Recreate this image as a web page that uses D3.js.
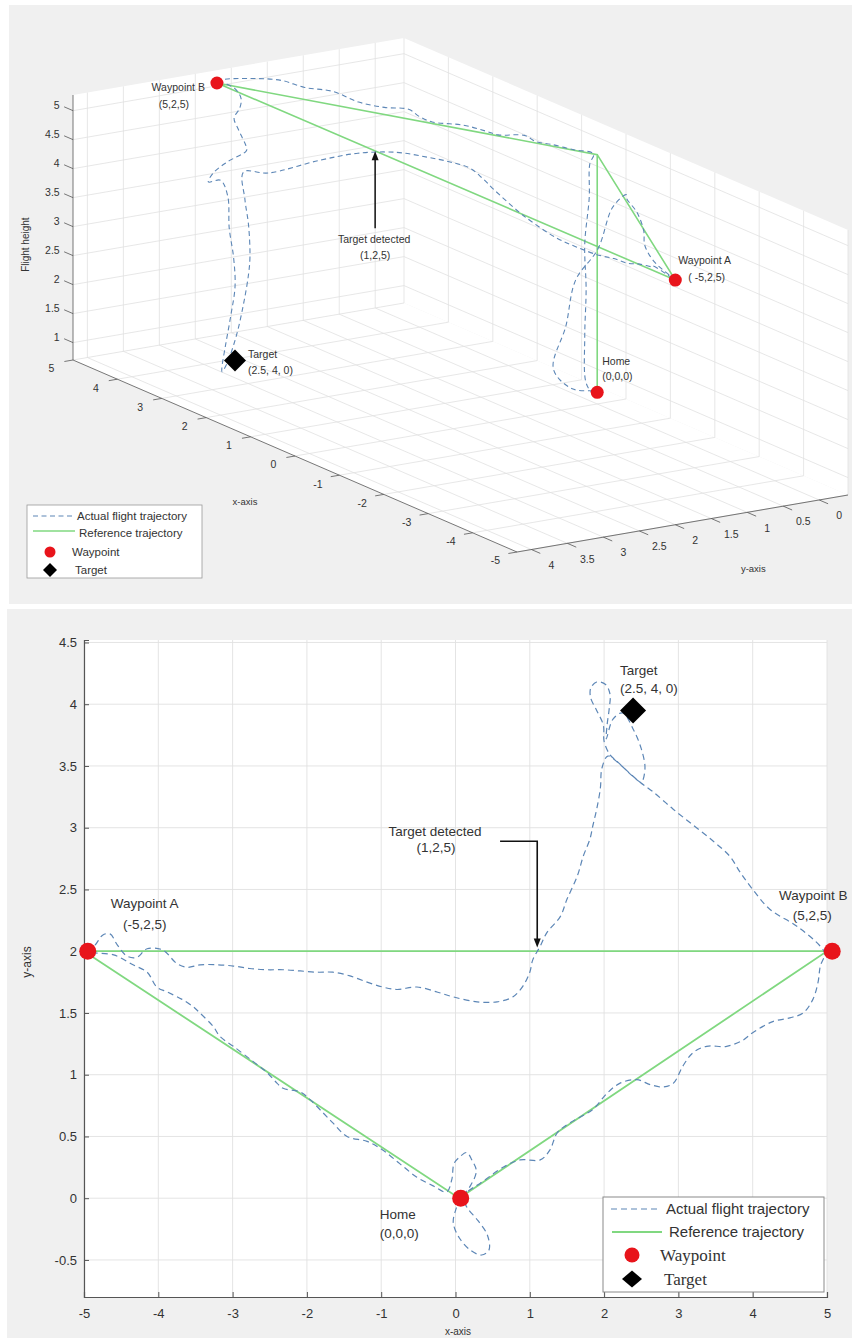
<!DOCTYPE html>
<html>
<head>
<meta charset="utf-8">
<script src="https://cdn.jsdelivr.net/npm/d3@7"></script>
<style>
  body { margin: 0; background: #fff; }
  svg { display: block; }
</style>
</head>
<body>
<script>
// ---------- 3D view (top panel) ----------
const xTicks3 = [-5, -4, -3, -2, -1, 0, 1, 2, 3, 4, 5];
const yTicks3 = [0, 0.5, 1, 1.5, 2, 2.5, 3, 3.5, 4];
const zTicks3 = [1, 1.5, 2, 2.5, 3, 3.5, 4, 4.5, 5];

// reference trajectory: home -> up -> B -> A -> top of home
const refX3 = [0, 0, 5, -5, 0];
const refY3 = [0, 0, 2.2, 2, 0];
const refZ3 = [0.9, 5, 5.05, 4.92, 5];

const flightX3 = [0.05, 0.15, 0.22, 0.20, 0.25, 0.20, 0.18, 0.12, 0.05, 0.33, 0.64, 0.87, 1.14, 1.37, 1.54, 1.85, 2.21, 2.44, 2.79, 3.06,
  3.38, 3.87, 4.27, 4.68, 4.88, 5.00, 4.60, 4.23, 4.00, 3.69, 3.20, 2.66, 2.31, 2.08, 2.00, 2.00, 1.95, 2.00, 2.00, 2.00,
  1.95, 1.95, 1.98, 2.00, 2.02, 2.05, 2.05, 2.05, 2.10, 2.10, 2.10, 2.10, 2.10, 2.05, 1.90, 1.70, 1.50, 1.20, 1.00, 0.70,
  0.29, 0.00, -0.48, -1.00, -1.42, -2.00, -2.54, -3.00, -3.44, -3.94, -4.20, -4.42, -4.72, -4.89, -5.00, -4.34, -3.68, -3.17, -2.40, -1.78,
  -1.46, -0.98, -0.50, 0.00, 0.30, 0.50, 0.40, 0.10];
const flightY3 = [0.00, -0.02, 0.02, 0.05, 0.00, 0.05, 0.00, 0.03, 0.02, 0.12, 0.25, 0.31, 0.31, 0.53, 0.61, 0.72, 0.93, 0.96, 0.90, 1.07,
  1.23, 1.28, 1.43, 1.50, 1.75, 2.15, 2.20, 2.34, 2.50, 2.77, 3.02, 3.29, 3.46, 3.59, 3.90, 4.10, 4.20, 4.00, 3.90, 3.88,
  3.85, 3.83, 3.87, 3.93, 3.97, 3.95, 3.88, 3.75, 3.62, 3.55, 3.53, 3.55, 3.60, 3.65, 3.40, 2.80, 2.40, 2.05, 1.75, 1.60,
  1.59, 1.60, 1.72, 1.70, 1.80, 1.80, 1.85, 1.83, 1.89, 2.01, 2.00, 1.96, 2.14, 2.03, 2.00, 1.89, 1.61, 1.31, 0.93, 0.69,
  0.50, 0.39, 0.30, 0.30, 0.25, 0.30, 0.10, 0.00];
const flightZ3 = [0.90, 0.85, 1.00, 1.80, 2.60, 3.40, 4.20, 4.80, 5.00, 5.00, 5.02, 5.00, 5.02, 5.00, 5.03, 5.05, 5.03, 5.05, 5.05, 5.03,
  5.05, 5.08, 5.05, 5.05, 5.07, 5.08, 5.09, 5.07, 5.01, 5.00, 5.04, 5.11, 5.14, 5.15, 5.05, 4.90, 4.78, 4.75, 4.45, 3.90,
  3.40, 2.90, 2.40, 1.90, 1.50, 1.42, 1.55, 2.00, 2.50, 3.00, 3.30, 3.85, 4.30, 4.80, 4.78, 4.94, 5.04, 5.08, 5.00, 4.98,
  5.01, 4.94, 4.91, 4.70, 4.71, 4.61, 4.64, 4.65, 4.75, 4.86, 4.93, 4.95, 5.10, 4.97, 4.92, 5.00, 5.00, 5.02, 5.00, 4.98,
  4.90, 4.50, 3.60, 2.90, 2.00, 1.20, 0.85, 0.90];

// waypoints B, A, Home and the target as placed in the 3D view
const wpX3 = [5, -5, 0];
const wpY3 = [2.2, 2, 0];
const wpZ3 = [5.05, 4.92, 0.9];
const targetX3 = 2.0, targetY3 = 3.8, targetZ3 = 1.6;
const detectX3 = 1.55, detectY3 = 2.13, detectZ3 = 5.0;

// ---------- 2D view (bottom panel) ----------
const xTicks2 = [-5, -4, -3, -2, -1, 0, 1, 2, 3, 4, 5];
const yTicks2 = [-0.5, 0, 0.5, 1, 1.5, 2, 2.5, 3, 3.5, 4, 4.5];

const refX2 = [-5, 5, 0.05, -5];
const refY2 = [2, 2, 0, 2];

const flightX2 = [0.07, 0.00, -0.03, 0.05, 0.20, 0.35, 0.45, 0.43, 0.30, 0.15, 0.10, 0.20, 0.33, 0.64, 0.87, 1.14, 1.27, 1.37, 1.54, 1.85,
  2.04, 2.21, 2.44, 2.62, 2.79, 2.93, 3.06, 3.20, 3.38, 3.65, 3.87, 4.00, 4.27, 4.50, 4.68, 4.81, 4.88, 4.91, 4.97, 4.91,
  4.60, 4.23, 4.00, 3.83, 3.69, 3.47, 3.20, 2.93, 2.66, 2.48, 2.31, 2.17, 2.08,
  2.00, 1.99, 1.90, 1.82, 1.82, 1.90, 2.02, 2.08, 2.07, 2.04, 2.03, 2.12, 2.25, 2.39, 2.50, 2.55, 2.50, 2.38, 2.20, 2.05,
  1.97, 1.95, 1.90, 1.85, 1.81, 1.72, 1.64, 1.50, 1.41, 1.23, 1.14, 1.04, 1.00, 0.91, 0.77, 0.56, 0.29, -0.03, -0.25, -0.52,
  -0.79, -0.98, -1.19, -1.42, -1.65, -1.86, -2.09, -2.32, -2.54, -2.77, -2.99, -3.21, -3.44, -3.61, -3.75, -3.94, -4.15, -4.29, -4.42, -4.55,
  -4.65, -4.75, -4.85, -4.95,
  -4.60, -4.34, -4.15, -4.02, -3.88, -3.68, -3.53, -3.44, -3.26, -3.17, -2.99, -2.73, -2.54, -2.40, -2.32, -2.09, -1.96, -1.78, -1.65, -1.46,
  -1.19, -0.98, -0.75, -0.52, -0.30, -0.12, -0.05, -0.02, 0.05, 0.15, 0.22, 0.28, 0.20, 0.07];
const flightY2 = [0.00, -0.10, -0.20, -0.32, -0.42, -0.46, -0.42, -0.30, -0.18, -0.07, 0.02, 0.07, 0.12, 0.25, 0.31, 0.31, 0.39, 0.53, 0.61, 0.72,
  0.85, 0.93, 0.96, 0.92, 0.90, 0.93, 1.07, 1.18, 1.23, 1.23, 1.28, 1.34, 1.43, 1.46, 1.50, 1.61, 1.75, 1.88, 1.98, 2.04,
  2.20, 2.34, 2.50, 2.64, 2.77, 2.89, 3.02, 3.15, 3.29, 3.37, 3.46, 3.54, 3.59,
  3.70, 3.83, 3.95, 4.05, 4.13, 4.18, 4.16, 4.08, 3.97, 3.83, 3.72, 3.88, 3.93, 3.80, 3.64, 3.48, 3.37, 3.42, 3.52, 3.58,
  3.48, 3.32, 3.15, 3.02, 2.91, 2.77, 2.61, 2.42, 2.28, 2.15, 2.04, 1.93, 1.83, 1.72, 1.63, 1.59, 1.59, 1.63, 1.67, 1.71,
  1.69, 1.71, 1.75, 1.80, 1.83, 1.83, 1.84, 1.85, 1.85, 1.86, 1.88, 1.89, 1.89, 1.87, 1.90, 2.01, 2.02, 1.95, 1.96, 2.05,
  2.14, 2.13, 2.05, 2.00,
  1.97, 1.89, 1.83, 1.71, 1.67, 1.61, 1.55, 1.50, 1.39, 1.31, 1.23, 1.11, 1.02, 0.93, 0.89, 0.86, 0.80, 0.69, 0.61, 0.50,
  0.46, 0.39, 0.28, 0.17, 0.10, 0.05, 0.15, 0.28, 0.33, 0.37, 0.31, 0.22, 0.10, 0.00];

// waypoints A, Home, B and target as plotted
const wpX2 = [-4.95, 0.07, 5.07];
const wpY2 = [2, 0, 2];
const targetX2 = 2.39, targetY2 = 3.95;
// "target detected" call-out arrow
const arrowX2 = [0.6, 1.1, 1.1];
const arrowY2 = [2.89, 2.89, 2.03];

const legendLabels = ['Actual flight trajectory', 'Reference trajectory', 'Waypoint', 'Target'];

// ---------- styles ----------
const SANS = '"Liberation Sans", Arial, sans-serif';
const SERIF = '"Liberation Serif", "Times New Roman", serif';
const BLUE = '#5c86b6';
const GREEN = '#80d880';
const RED = '#e8141b';
const GRID = '#e1e1e1';
const AXIS = '#555';
const TXT = '#333';

const svg = d3.select('body').append('svg')
  .attr('width', 856)
  .attr('height', 1338)
  .style('font-family', SANS);

svg.append('rect').attr('width', 856).attr('height', 1338).attr('fill', '#fff');
svg.append('rect').attr('x', 9).attr('y', 5).attr('width', 843).attr('height', 599).attr('fill', '#f0f0f0');
svg.append('rect').attr('x', 7).attr('y', 609).attr('width', 845).attr('height', 729).attr('fill', '#f0f0f0');

function diamond(g, cx, cy, rx, ry) {
  return g.append('polygon')
    .attr('points', [[cx, cy - ry], [cx + rx, cy], [cx, cy + ry], [cx - rx, cy]].map(p => p.join(',')).join(' '))
    .attr('fill', '#000');
}

// ================= 3D panel =================
const ymin3 = -0.4, ymax3 = 4.2, zmin3 = 0.7, zmax3 = 5.27;
const fx = d3.scaleLinear().domain([-5, 5]).range([0, 1]);
const fy = d3.scaleLinear().domain([ymax3, ymin3]).range([0, 1]);
const fz = d3.scaleLinear().domain([zmin3, zmax3]).range([0, 1]);
const O3 = [517, 552], VX = [-444, -192], VY = [331, -57], VZ = -265;

function P(x, y, z) {
  const a = fx(x), b = fy(y), c = fz(z);
  return [O3[0] + a * VX[0] + b * VY[0], O3[1] + a * VX[1] + b * VY[1] + c * VZ];
}

const g3 = svg.append('g');
const poly = pts => pts.map(p => p.join(',')).join(' ');

// white planes: back wall x=5, back wall y=min, floor
[
  [P(5, ymax3, zmin3), P(5, ymin3, zmin3), P(5, ymin3, zmax3), P(5, ymax3, zmax3)],
  [P(5, ymin3, zmin3), P(-5, ymin3, zmin3), P(-5, ymin3, zmax3), P(5, ymin3, zmax3)],
  [P(5, ymax3, zmin3), P(-5, ymax3, zmin3), P(-5, ymin3, zmin3), P(5, ymin3, zmin3)]
].forEach(f => g3.append('polygon').attr('points', poly(f)).attr('fill', '#fff'));

function seg(g, a, b, color, w) {
  return g.append('line')
    .attr('x1', a[0]).attr('y1', a[1]).attr('x2', b[0]).attr('y2', b[1])
    .attr('stroke', color).attr('stroke-width', w);
}

const grid3 = g3.append('g');
xTicks3.forEach(x => {
  seg(grid3, P(x, ymax3, zmin3), P(x, ymin3, zmin3), GRID, 0.8);
  seg(grid3, P(x, ymin3, zmin3), P(x, ymin3, zmax3), GRID, 0.8);
});
yTicks3.forEach(y => {
  seg(grid3, P(5, y, zmin3), P(-5, y, zmin3), GRID, 0.8);
  seg(grid3, P(5, y, zmin3), P(5, y, zmax3), GRID, 0.8);
});
zTicks3.forEach(z => {
  seg(grid3, P(5, ymax3, z), P(5, ymin3, z), GRID, 0.8);
  seg(grid3, P(5, ymin3, z), P(-5, ymin3, z), GRID, 0.8);
});

// axis lines
seg(g3, P(5, ymax3, zmin3), P(-5, ymax3, zmin3), AXIS, 0.8);
seg(g3, P(-5, ymax3, zmin3), P(-5, ymin3, zmin3), AXIS, 0.8);
seg(g3, P(5, ymax3, zmin3), P(5, ymax3, zmax3), AXIS, 0.8);

// ticks and tick labels
xTicks3.forEach(x => {
  seg(g3, P(x, ymax3, zmin3), P(x, ymax3 + 0.12, zmin3), AXIS, 0.8);
  const p = P(x, ymax3 + 0.3, zmin3);
  g3.append('text').attr('x', p[0]).attr('y', p[1] + 5).attr('dy', '0.35em')
    .attr('text-anchor', 'middle').attr('font-size', 10.5).attr('fill', TXT).text(x);
});
yTicks3.forEach(y => {
  seg(g3, P(-5, y, zmin3), P(-5.2, y, zmin3), AXIS, 0.8);
  const p = P(-5.45, y, zmin3);
  g3.append('text').attr('x', p[0]).attr('y', p[1] + 7).attr('dy', '0.35em')
    .attr('text-anchor', 'middle').attr('font-size', 10.5).attr('fill', TXT).text(y);
});
zTicks3.forEach(z => {
  seg(g3, P(5, ymax3, z), P(5.2, ymax3, z), AXIS, 0.8);
  const p = P(5.3, ymax3, z);
  g3.append('text').attr('x', p[0]).attr('y', p[1]).attr('dy', '0.35em')
    .attr('text-anchor', 'end').attr('font-size', 10.5).attr('fill', TXT).text(z);
});

// axis titles
const xl = P(0, ymax3, zmin3);
g3.append('text').attr('x', xl[0] - 50).attr('y', xl[1] + 49).attr('text-anchor', 'middle')
  .attr('font-size', 9.5).attr('fill', TXT).text('x-axis');
const yl = P(-5, 2, zmin3);
g3.append('text').attr('x', yl[0] + 78).attr('y', yl[1] + 47).attr('text-anchor', 'middle')
  .attr('font-size', 9.5).attr('fill', TXT).text('y-axis');
const zl = P(5, ymax3, 3);
g3.append('text').attr('transform', `translate(${zl[0] - 44},${zl[1] + 18}) rotate(-90)`)
  .attr('text-anchor', 'middle').attr('font-size', 10).attr('fill', TXT).text('Flight height');

// reference and actual trajectories
const lin = d3.line();
const smooth = d3.line().curve(d3.curveCatmullRom.alpha(0.5));
g3.append('path')
  .attr('d', lin(refX3.map((x, i) => P(x, refY3[i], refZ3[i]))))
  .attr('fill', 'none').attr('stroke', GREEN).attr('stroke-width', 1.6);
g3.append('path')
  .attr('d', smooth(flightX3.map((x, i) => P(x, flightY3[i], flightZ3[i]))))
  .attr('fill', 'none').attr('stroke', BLUE).attr('stroke-width', 1.1)
  .attr('stroke-dasharray', '5,3.5');

// markers
const wp3 = wpX3.map((x, i) => P(x, wpY3[i], wpZ3[i]));
wp3.forEach(p => g3.append('circle').attr('cx', p[0]).attr('cy', p[1]).attr('r', 6.5).attr('fill', RED));
const tg3 = P(targetX3, targetY3, targetZ3);
diamond(g3, tg3[0], tg3[1], 11, 11);

// annotations
function label(g, x, y, str, anchor, size, family) {
  return g.append('text').attr('x', x).attr('y', y).attr('text-anchor', anchor || 'start')
    .attr('font-size', size).attr('fill', TXT).style('font-family', family || SANS).text(str);
}
label(g3, wp3[0][0] - 12, wp3[0][1] + 8, 'Waypoint B', 'end', 10.5);
label(g3, wp3[0][0] - 43, wp3[0][1] + 25, '(5,2,5)', 'middle', 10.5);
label(g3, wp3[1][0] + 3, wp3[1][1] - 16, 'Waypoint A', 'start', 10.5);
label(g3, wp3[1][0] + 13, wp3[1][1] + 1, '( -5,2,5)', 'start', 10.5);
label(g3, wp3[2][0] + 5, wp3[2][1] - 27, 'Home', 'start', 10.5);
label(g3, wp3[2][0] + 5, wp3[2][1] - 12, '(0,0,0)', 'start', 10.5);
label(g3, tg3[0] + 13, tg3[1] - 2, 'Target', 'start', 10.5);
label(g3, tg3[0] + 13, tg3[1] + 14, '(2.5, 4, 0)', 'start', 10.5);

const dt3 = P(detectX3, detectY3, detectZ3);
seg(g3, [dt3[0], dt3[1] + 6], [dt3[0], dt3[1] + 77], '#111', 1.5);
g3.append('polygon')
  .attr('points', poly([[dt3[0], dt3[1]], [dt3[0] - 3.5, dt3[1] + 9], [dt3[0] + 3.5, dt3[1] + 9]]))
  .attr('fill', '#111');
label(g3, dt3[0] - 1, dt3[1] + 92, 'Target detected', 'middle', 10.5);
label(g3, dt3[0], dt3[1] + 108, '(1,2,5)', 'middle', 10.5);

// legend (3D)
const lg3 = g3.append('g');
lg3.append('rect').attr('x', 27).attr('y', 505).attr('width', 175).attr('height', 73)
  .attr('fill', '#fff').attr('stroke', '#9a9a9a').attr('stroke-width', 0.8);
seg(lg3, [33, 516], [73, 516], BLUE, 1.1).attr('stroke-dasharray', '5,3.5');
seg(lg3, [33, 531], [75, 531], GREEN, 1.6);
lg3.append('circle').attr('cx', 50).attr('cy', 552).attr('r', 5.5).attr('fill', RED);
diamond(lg3, 50, 570, 7, 7);
label(lg3, 77, 520, legendLabels[0], 'start', 11.5);
label(lg3, 79, 537, legendLabels[1], 'start', 11.5);
label(lg3, 72, 556, legendLabels[2], 'start', 11.5);
label(lg3, 75, 574, legendLabels[3], 'start', 11.5);

// ================= 2D panel =================
const g2 = svg.append('g');
const x2 = d3.scaleLinear().domain([-5, 5]).range([84, 827]);
const y2 = d3.scaleLinear().domain([-0.8, 4.52]).range([1297, 640]);

g2.append('rect').attr('x', 84).attr('y', 640).attr('width', 743).attr('height', 657).attr('fill', '#fff');

const grid2 = g2.append('g');
xTicks2.forEach(x => seg(grid2, [x2(x), 640], [x2(x), 1297], GRID, 0.9));
yTicks2.forEach(y => seg(grid2, [84, y2(y)], [827, y2(y)], GRID, 0.9));

const yAxis2 = g2.append('g').attr('transform', 'translate(84,0)')
  .call(d3.axisLeft(y2).tickValues(yTicks2).tickSize(-5).tickPadding(7).tickFormat(d => String(d)));
const xAxis2 = g2.append('g').attr('transform', 'translate(0,1297)')
  .call(d3.axisBottom(x2).tickValues(xTicks2).tickSize(-5).tickPadding(12).tickFormat(d => String(d)));
[yAxis2, xAxis2].forEach(a => {
  a.select('.domain').attr('stroke', AXIS).attr('stroke-width', 1.2);
  a.selectAll('.tick line').attr('stroke', AXIS);
  a.selectAll('.tick text').attr('fill', TXT).attr('font-size', 13).style('font-family', SANS);
});

g2.append('text').attr('transform', 'translate(31,962) rotate(-90)').attr('text-anchor', 'middle')
  .attr('font-size', 12).attr('fill', TXT).text('y-axis');
g2.append('text').attr('x', 458).attr('y', 1335).attr('text-anchor', 'middle')
  .attr('font-size', 10).attr('fill', TXT).text('x-axis');

g2.append('path')
  .attr('d', lin(refX2.map((x, i) => [x2(x), y2(refY2[i])])))
  .attr('fill', 'none').attr('stroke', GREEN).attr('stroke-width', 1.8);
g2.append('path')
  .attr('d', smooth(flightX2.map((x, i) => [x2(x), y2(flightY2[i])])))
  .attr('fill', 'none').attr('stroke', BLUE).attr('stroke-width', 1.2)
  .attr('stroke-dasharray', '6,4');

// call-out arrow
const arr = arrowX2.map((x, i) => [x2(x), y2(arrowY2[i])]);
const tip = arr[arr.length - 1];
g2.append('path').attr('d', lin([arr[0], arr[1], [tip[0], tip[1] - 7]]))
  .attr('fill', 'none').attr('stroke', '#111').attr('stroke-width', 1.6);
g2.append('polygon')
  .attr('points', poly([[tip[0], tip[1]], [tip[0] - 3.5, tip[1] - 9], [tip[0] + 3.5, tip[1] - 9]]))
  .attr('fill', '#111');
label(g2, arr[0][0] - 65, arr[0][1] - 5, 'Target detected', 'middle', 13.5);
label(g2, arr[0][0] - 64, arr[0][1] + 11, '(1,2,5)', 'middle', 13.5);

const wp2 = wpX2.map((x, i) => [x2(x), y2(wpY2[i])]);
wp2.forEach(p => g2.append('circle').attr('cx', p[0]).attr('cy', p[1]).attr('r', 8.5).attr('fill', RED));
const tg2 = [x2(targetX2), y2(targetY2)];
diamond(g2, tg2[0], tg2[1], 13, 13);

label(g2, wp2[0][0] + 57, wp2[0][1] - 43, 'Waypoint A', 'middle', 13.5);
label(g2, wp2[0][0] + 57, wp2[0][1] - 22, '(-5,2,5)', 'middle', 13.5);
label(g2, wp2[2][0] - 19, wp2[2][1] - 51, 'Waypoint B', 'middle', 13.5);
label(g2, wp2[2][0] - 20, wp2[2][1] - 31, '(5,2,5)', 'middle', 13.5);
label(g2, wp2[1][0] - 81, wp2[1][1] + 21, 'Home', 'start', 13.5);
label(g2, wp2[1][0] - 81, wp2[1][1] + 40, '(0,0,0)', 'start', 13.5);
label(g2, tg2[0] - 13, tg2[1] - 35, 'Target', 'start', 13.5);
label(g2, tg2[0] - 13, tg2[1] - 17, '(2.5, 4, 0)', 'start', 13.5);

// legend (2D)
const lg2 = g2.append('g');
lg2.append('rect').attr('x', 603).attr('y', 1197).attr('width', 221).attr('height', 95)
  .attr('fill', '#fff').attr('stroke', '#8a8a8a').attr('stroke-width', 1);
seg(lg2, [611, 1209], [660, 1209], BLUE, 1.2).attr('stroke-dasharray', '6,4');
seg(lg2, [612, 1232], [662, 1232], GREEN, 1.8);
lg2.append('circle').attr('cx', 632).attr('cy', 1255).attr('r', 7.5).attr('fill', RED);
diamond(lg2, 632, 1279, 10, 8.5);
label(lg2, 666, 1214, legendLabels[0], 'start', 15);
label(lg2, 669, 1237, legendLabels[1], 'start', 15);
label(lg2, 660, 1261, legendLabels[2], 'start', 17, SERIF);
label(lg2, 664, 1285, legendLabels[3], 'start', 17, SERIF);
</script>
</body>
</html>
